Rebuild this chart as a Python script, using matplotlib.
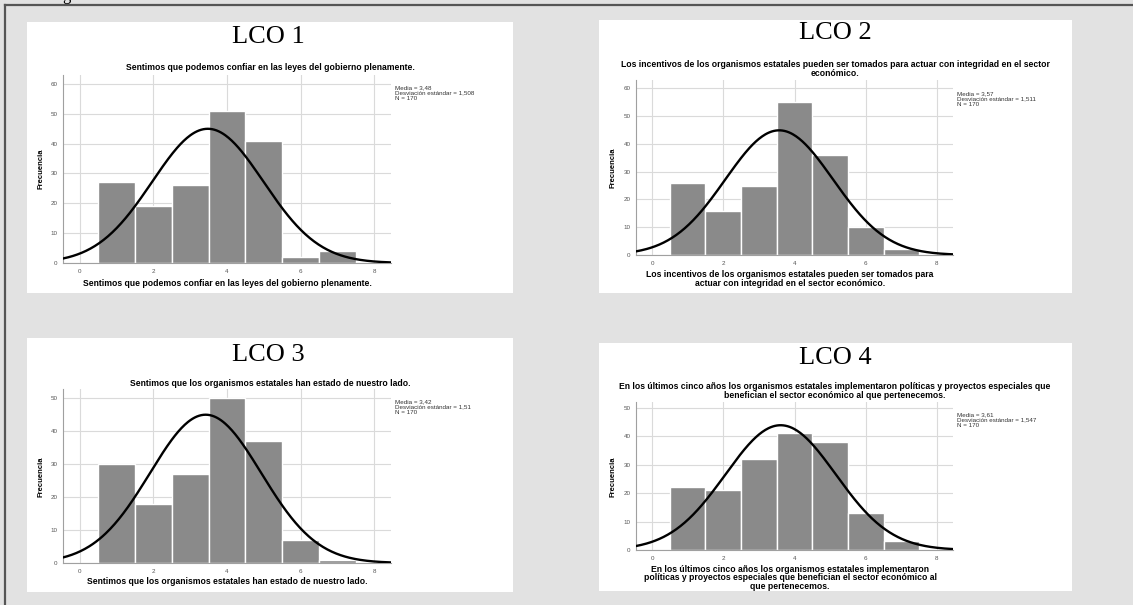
import numpy as np
import matplotlib
matplotlib.use("Agg")
import matplotlib.pyplot as plt
from matplotlib.patches import Rectangle

W, H = 1133, 605

# data
scores = [1, 2, 3, 4, 5, 6, 7]
lco1 = [27, 19, 26, 51, 41, 2, 4]
lco2 = [26, 16, 25, 55, 36, 10, 2]
lco3 = [30, 18, 27, 50, 37, 7, 1]
lco4 = [22, 21, 32, 41, 38, 13, 3]
medias = [3.48, 3.57, 3.42, 3.61]
desvs = [1.508, 1.511, 1.51, 1.547]
medias_txt = ["3,48", "3,57", "3,42", "3,61"]
desvs_txt = ["1,508", "1,511", "1,51", "1,547"]
n_total = 170
paneles = ["LCO 1", "LCO 2", "LCO 3", "LCO 4"]
titulos = [
    "Sentimos que podemos confiar en las leyes del gobierno plenamente.",
    "Los incentivos de los organismos estatales pueden ser tomados para actuar con integridad en el sector\neconómico.",
    "Sentimos que los organismos estatales han estado de nuestro lado.",
    "En los últimos cinco años los organismos estatales implementaron políticas y proyectos especiales que\nbenefician el sector económico al que pertenecemos.",
]
xlabels = [
    "Sentimos que podemos confiar en las leyes del gobierno plenamente.",
    "Los incentivos de los organismos estatales pueden ser tomados para\nactuar con integridad en el sector económico.",
    "Sentimos que los organismos estatales han estado de nuestro lado.",
    "En los últimos cinco años los organismos estatales implementaron\npolíticas y proyectos especiales que benefician el sector económico al\nque pertenecemos.",
]
frecs = [lco1, lco2, lco3, lco4]
ytops = [63, 63, 52.7, 52]

# layout in pixels
white = [(27, 22, 513, 293), (599, 20, 1072, 293), (27, 338, 513, 592), (599, 343, 1072, 591)]
axbox = [(63, 75, 391, 263), (636, 80, 953, 255), (63, 389, 391, 563), (636, 402, 953, 550)]
lco_pos = [(268, 37), (835, 33), (268, 355), (835, 358)]
tit_pos = [(270, 68), (835, 69), (270, 384), (835, 391)]
xl_pos = [(227, 283), (790, 279), (227, 582), (790, 578)]
yl_pos = [(41, 169), (613, 168), (41, 477), (613, 477)]
st_pos = [(395, 85), (957, 91), (395, 399), (957, 412)]


def fx(x):
    return x / W


def fy(y):
    return 1 - y / H


fig = plt.figure(figsize=(W / 100, H / 100), dpi=100)
fig.patch.set_facecolor("#e2e2e2")
sans = "Liberation Sans"

# outer frame lines
fig.add_artist(plt.Line2D([fx(5), fx(W)], [fy(4.5), fy(4.5)], color="#555555", lw=1.6))
fig.add_artist(plt.Line2D([fx(5.5), fx(5.5)], [fy(4.5), fy(H)], color="#555555", lw=1.6))
fig.text(fx(62), fy(0), "g", family="Liberation Serif", fontsize=12, va="baseline", ha="left")

x_curve = np.linspace(-0.45, 8.45, 300)

for i in range(4):
    l, t, r, b = white[i]
    fig.add_artist(Rectangle((fx(l), fy(b)), fx(r - l), (b - t) / H, facecolor="white",
                             edgecolor="none", transform=fig.transFigure, zorder=0))
    al, at, ar, ab = axbox[i]
    ax = fig.add_axes([fx(al), fy(ab), fx(ar - al), (ab - at) / H])
    ax.set_facecolor("white")
    ax.bar(scores, frecs[i], width=1.0, color="#8a8a8a", edgecolor="white", linewidth=1.0, zorder=2)
    sd = desvs[i]
    mu = medias[i]
    y_curve = n_total / (sd * np.sqrt(2 * np.pi)) * np.exp(-0.5 * ((x_curve - mu) / sd) ** 2)
    ax.plot(x_curve, y_curve, color="black", lw=1.7, zorder=3)
    ax.set_xlim(-0.45, 8.45)
    ax.set_ylim(0, ytops[i])
    ax.set_xticks([0, 2, 4, 6, 8])
    ax.set_yticks(np.arange(0, ytops[i], 10))
    ax.grid(True, color="#dadada", lw=0.8, zorder=0)
    ax.set_axisbelow(True)
    for s in ["top", "right"]:
        ax.spines[s].set_visible(False)
    for s in ["left", "bottom"]:
        ax.spines[s].set_color("#a0a0a0")
        ax.spines[s].set_linewidth(0.8)
    ax.tick_params(length=0, labelsize=4.5, labelcolor="#555555", pad=4)
    for lab in ax.get_xticklabels() + ax.get_yticklabels():
        lab.set_family(sans)

    fig.text(fx(lco_pos[i][0]), fy(lco_pos[i][1]), paneles[i], family="Liberation Serif",
             fontsize=19, ha="center", va="center")
    fig.text(fx(tit_pos[i][0]), fy(tit_pos[i][1]), titulos[i], family=sans, fontsize=6.2,
             fontweight="bold", ha="center", va="center", linespacing=1.0)
    fig.text(fx(xl_pos[i][0]), fy(xl_pos[i][1]), xlabels[i], family=sans, fontsize=6.2,
             fontweight="bold", ha="center", va="center", linespacing=0.95)
    fig.text(fx(yl_pos[i][0]), fy(yl_pos[i][1]), "Frecuencia", family=sans, fontsize=5.5,
             fontweight="bold", ha="center", va="center", rotation=90)
    stats = "Media = %s\nDesviación estándar = %s\nN = %d" % (medias_txt[i], desvs_txt[i], n_total)
    fig.text(fx(st_pos[i][0]), fy(st_pos[i][1]), stats, family=sans, fontsize=4.5,
             ha="left", va="top", linespacing=1.1, color="#333333")

fig.savefig("out.png", dpi=100, facecolor=fig.get_facecolor())
